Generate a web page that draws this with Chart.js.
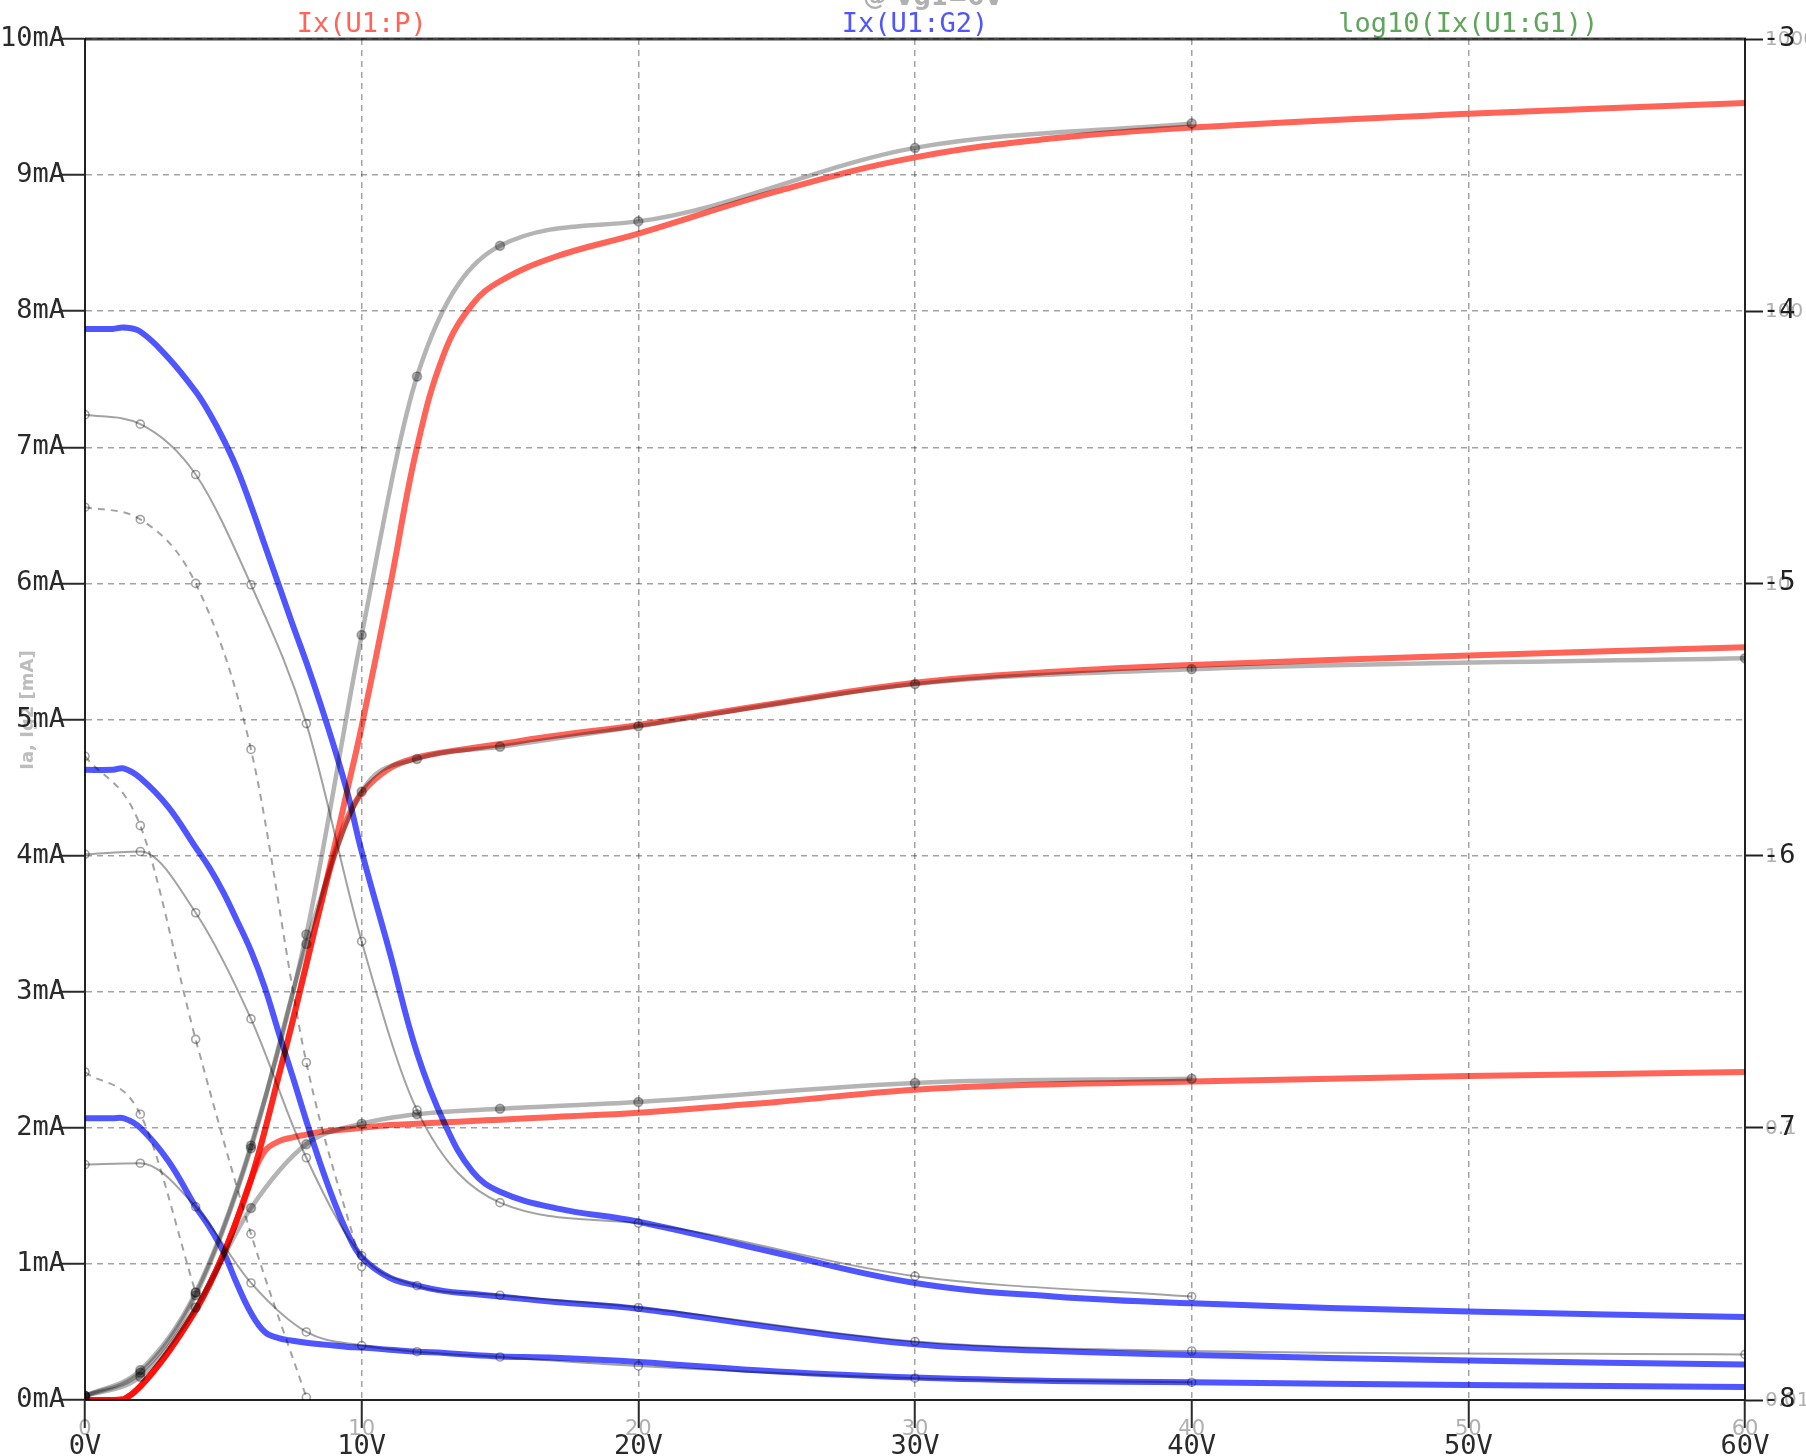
<!DOCTYPE html>
<html>
<head>
<meta charset="utf-8">
<title>Pentode plate / screen curves</title>
<script src="https://cdn.jsdelivr.net/npm/chart.js@4.4.1/dist/chart.umd.min.js"></script>
<style>
  html, body { margin: 0; padding: 0; background: #fff; }
  #wrap { width: 1806px; height: 1456px; }
</style>
</head>
<body>
<div id="wrap"><canvas id="cv" width="1806" height="1456"></canvas></div>
<script>
"use strict";

// ---- data -------------------------------------------------------------
// simulation traces share one voltage grid (V)
const V_SIM = [0, 1, 1.4, 2, 3, 4, 4.5, 5, 5.5, 6, 6.5, 7, 7.5, 8, 8.5, 9, 9.5, 10, 11, 12, 13, 14, 15, 17, 20, 25, 30, 35, 40, 50, 60];

// Ix(U1:P), mA
const IP_1 = [0, 0, 0.005, 0.1, 0.35, 0.66, 0.85, 1.07, 1.33, 1.62, 1.98, 2.38, 2.78, 3.2, 3.62, 4.05, 4.5, 4.95, 5.95, 7.0, 7.7, 8.05, 8.22, 8.4, 8.57, 8.88, 9.13, 9.27, 9.35, 9.45, 9.53];
const IP_2 = [0, 0, 0.005, 0.1, 0.35, 0.66, 0.85, 1.07, 1.33, 1.62, 1.98, 2.38, 2.78, 3.2, 3.62, 4.0, 4.28, 4.46, 4.64, 4.72, 4.76, 4.79, 4.82, 4.88, 4.96, 5.12, 5.27, 5.35, 5.4, 5.47, 5.53];
const IP_3 = [0, 0, 0.005, 0.1, 0.35, 0.66, 0.85, 1.07, 1.33, 1.62, 1.83, 1.9, 1.93, 1.95, 1.97, 1.98, 1.99, 2.0, 2.02, 2.03, 2.04, 2.05, 2.06, 2.08, 2.11, 2.19, 2.28, 2.32, 2.34, 2.38, 2.41];

// Ix(U1:G2), mA
const IG2_1 = [7.87, 7.87, 7.88, 7.85, 7.66, 7.41, 7.25, 7.06, 6.84, 6.57, 6.28, 5.99, 5.7, 5.42, 5.12, 4.8, 4.45, 4.03, 3.3, 2.55, 2.03, 1.68, 1.53, 1.41, 1.31, 1.08, 0.86, 0.76, 0.71, 0.65, 0.61];
const IG2_2 = [4.63, 4.63, 4.64, 4.57, 4.36, 4.06, 3.91, 3.73, 3.52, 3.3, 3.03, 2.7, 2.38, 2.05, 1.74, 1.46, 1.22, 1.05, 0.9, 0.84, 0.8, 0.78, 0.76, 0.72, 0.67, 0.53, 0.41, 0.36, 0.33, 0.29, 0.26];
const IG2_3 = [2.07, 2.07, 2.07, 2.0, 1.76, 1.42, 1.27, 1.09, 0.85, 0.64, 0.5, 0.455, 0.435, 0.42, 0.41, 0.4, 0.39, 0.385, 0.37, 0.355, 0.345, 0.33, 0.32, 0.31, 0.28, 0.21, 0.165, 0.14, 0.13, 0.11, 0.095];

// datasheet overlay (scanned curves), points where the sheet has markers
const V_DS = [0, 2, 4, 6, 8, 10, 12, 15, 20, 30, 40];
const V_DS60 = [0, 2, 4, 6, 8, 10, 12, 15, 20, 30, 40, 60];
const DS_IA_1 = [0.03, 0.22, 0.79, 1.87, 3.42, 5.62, 7.52, 8.48, 8.66, 9.2, 9.38];
const DS_IA_2 = [0.03, 0.2, 0.77, 1.85, 3.35, 4.47, 4.71, 4.8, 4.95, 5.26, 5.37, 5.45];
const DS_IA_3 = [0.03, 0.17, 0.68, 1.41, 1.88, 2.03, 2.1, 2.14, 2.19, 2.33, 2.36];
const DS_IG2_1 = [7.24, 7.17, 6.8, 5.99, 4.97, 3.37, 2.13, 1.45, 1.3, 0.91, 0.76];
const DS_IG2_2 = [4.01, 4.03, 3.58, 2.8, 1.78, 1.06, 0.84, 0.77, 0.68, 0.43, 0.36, 0.335];
const DS_IG2_3 = [1.73, 1.74, 1.42, 0.86, 0.5, 0.4, 0.355, 0.316, 0.25, 0.16, 0.13];
const V_D1 = [0, 2, 4, 6, 8, 10];
const DS_D1 = [6.56, 6.47, 6.0, 4.78, 2.48, 0.98];
const V_D2 = [0, 2, 4, 6, 8];
const DS_D2 = [4.73, 4.22, 2.65, 1.22, 0.02];
const V_D3 = [0, 2, 4];
const DS_D3 = [2.41, 2.1, 0.79];

// labels
const TRACE_NAMES = ["Ix(U1:P)", "Ix(U1:G2)", "log10(Ix(U1:G1))"];
const X_TICKS = [0, 10, 20, 30, 40, 50, 60];
const SHEET_X_LABELS = ["0", "10", "20", "30", "40", "50", "60"];
const LOG_TICKS = [-3, -4, -5, -6, -7, -8];
const SHEET_LOG_LABELS = ["1000", "100", "10", "1", "0.1", "0.01"];
const SHEET_TITLE = "@ Vg1=0V";
const SHEET_YLABEL = "Ia, Ig2 [mA]";

// ---- style ------------------------------------------------------------
const C_RED = "#ff6459";
const C_BLUE = "#4f55ff";
const C_GREEN = "#5fa55a";
const C_SHEET = "#b4b4b4";   // thick datasheet anode curves
const C_SHEET_THIN = "#a2a2a2";
const C_GHOST = "#b0b0b0";
const C_GRID = "rgba(0,0,0,0.36)";
const C_AXIS = "#222";
const C_TICK = "#2a2a2a";
const MONO = '"DejaVu Sans Mono", monospace';
const SANS = '"DejaVu Sans", sans-serif';

function pts(xs, ys) {
  return xs.map((x, i) => ({ x, y: ys[i] }));
}

function simLine(ys, color) {
  return {
    data: pts(V_SIM, ys),
    borderColor: color,
    borderWidth: 6,
    pointRadius: 0,
    tension: 0.4,
    fill: false,
  };
}

function sheetLine(xs, ys, kind) {
  const base = {
    data: pts(xs, ys),
    cubicInterpolationMode: "monotone",
    fill: false,
    pointRadius: 4,
    pointBorderWidth: 1.6,
  };
  if (kind === "anode") {
    return Object.assign(base, {
      borderColor: C_SHEET, borderWidth: 4.5,
      pointBackgroundColor: C_SHEET, pointBorderColor: C_SHEET, pointRadius: 4.5,
    });
  }
  if (kind === "dash") {
    return Object.assign(base, {
      borderColor: C_SHEET_THIN, borderWidth: 2, borderDash: [7, 6],
      pointBackgroundColor: "#fff", pointBorderColor: C_SHEET_THIN,
    });
  }
  return Object.assign(base, {
    borderColor: C_SHEET_THIN, borderWidth: 2,
    pointBackgroundColor: "#fff", pointBorderColor: C_SHEET_THIN,
  });
}

// white paper, multiply blending for the traces (scan overlaid on plot),
// frame + trace names + ghost labels of the scanned sheet
const overlay = {
  id: "overlay",
  beforeDraw(chart) {
    const { ctx, width, height } = chart;
    ctx.save();
    ctx.fillStyle = "#fff";
    ctx.fillRect(0, 0, width, height);
    ctx.restore();
  },
  beforeDatasetsDraw(chart) {
    chart.ctx.save();
    chart.ctx.globalCompositeOperation = "multiply";
  },
  afterDatasetsDraw(chart) {
    chart.ctx.restore();
  },
  afterDraw(chart) {
    const { ctx, chartArea: a, scales } = chart;
    ctx.save();
    ctx.globalCompositeOperation = "multiply";

    // top frame
    ctx.strokeStyle = "#444";
    ctx.lineWidth = 3;
    ctx.beginPath();
    ctx.moveTo(a.left, a.top);
    ctx.lineTo(a.right + 1, a.top);
    ctx.stroke();

    // trace names, three equal columns
    const colors = [C_RED, C_BLUE, C_GREEN];
    const colW = (a.right - a.left) / 3;
    ctx.font = "27px " + MONO;
    ctx.textAlign = "center";
    ctx.textBaseline = "alphabetic";
    TRACE_NAMES.forEach((t, i) => {
      ctx.fillStyle = colors[i];
      ctx.fillText(t, a.left + colW * (i + 0.5), 32);
    });

    // ghost text from the scanned sheet
    ctx.fillStyle = C_GHOST;
    ctx.font = "bold 24px " + SANS;
    ctx.fillText(SHEET_TITLE, 933, 5);

    ctx.font = "21px " + SANS;
    X_TICKS.forEach((v, i) => {
      ctx.fillText(SHEET_X_LABELS[i], scales.x.getPixelForValue(v), 1435);
    });

    ctx.font = "20px " + SANS;
    ctx.textAlign = "left";
    ctx.textBaseline = "middle";
    LOG_TICKS.forEach((v, i) => {
      ctx.fillText(SHEET_LOG_LABELS[i], 1765, scales.y2.getPixelForValue(v) + 1);
    });

    ctx.translate(28, 710);
    ctx.rotate(-Math.PI / 2);
    ctx.textAlign = "center";
    ctx.fillStyle = "#bdbdbd";
    ctx.font = "bold 18px " + SANS;
    ctx.fillText(SHEET_YLABEL, 0, 0);
    ctx.restore();
  },
};

const tickFont = { family: MONO, size: 27 };

new Chart(document.getElementById("cv").getContext("2d"), {
  type: "line",
  data: {
    datasets: [
      sheetLine(V_DS, DS_IA_1, "anode"),
      sheetLine(V_DS60, DS_IA_2, "anode"),
      sheetLine(V_DS, DS_IA_3, "anode"),
      sheetLine(V_DS, DS_IG2_1, "thin"),
      sheetLine(V_DS60, DS_IG2_2, "thin"),
      sheetLine(V_DS, DS_IG2_3, "thin"),
      sheetLine(V_D1, DS_D1, "dash"),
      sheetLine(V_D2, DS_D2, "dash"),
      sheetLine(V_D3, DS_D3, "dash"),
      simLine(IP_1, C_RED),
      simLine(IP_2, C_RED),
      simLine(IP_3, C_RED),
      simLine(IG2_1, C_BLUE),
      simLine(IG2_2, C_BLUE),
      simLine(IG2_3, C_BLUE),
    ],
  },
  options: {
    responsive: false,
    animation: false,
    layout: { padding: { top: 39, left: 0, right: 0, bottom: 0 } },
    plugins: { legend: { display: false }, tooltip: { enabled: false } },
    scales: {
      x: {
        type: "linear",
        position: "bottom",
        min: 0, max: 60,
        ticks: { stepSize: 10, callback: (v) => v + "V", font: tickFont, color: C_TICK, padding: 3, maxRotation: 0 },
        grid: { color: C_GRID, lineWidth: 1.5, tickLength: 28, tickColor: C_TICK, tickWidth: 2 },
        border: { color: C_AXIS, width: 2, dash: [6, 5] },
        afterFit: (s) => { s.height = 56; },
      },
      y: {
        position: "left",
        min: 0, max: 10,
        ticks: { stepSize: 1, callback: (v) => v + "mA", font: tickFont, color: C_TICK, padding: -6 },
        grid: { color: C_GRID, lineWidth: 1.5, tickLength: 26, tickColor: C_TICK, tickWidth: 2 },
        border: { color: C_AXIS, width: 2, dash: [6, 5] },
        afterFit: (s) => { s.width = 85; },
      },
      y2: {
        position: "right",
        min: -8, max: -3,
        ticks: { stepSize: 1, callback: (v) => String(v), font: tickFont, color: C_AXIS, padding: 0 },
        grid: { drawOnChartArea: false, tickLength: 18, tickColor: C_AXIS, tickWidth: 2 },
        border: { color: C_AXIS, width: 2 },
        afterFit: (s) => { s.width = 61; },
      },
    },
  },
  plugins: [overlay],
});
</script>
</body>
</html>
